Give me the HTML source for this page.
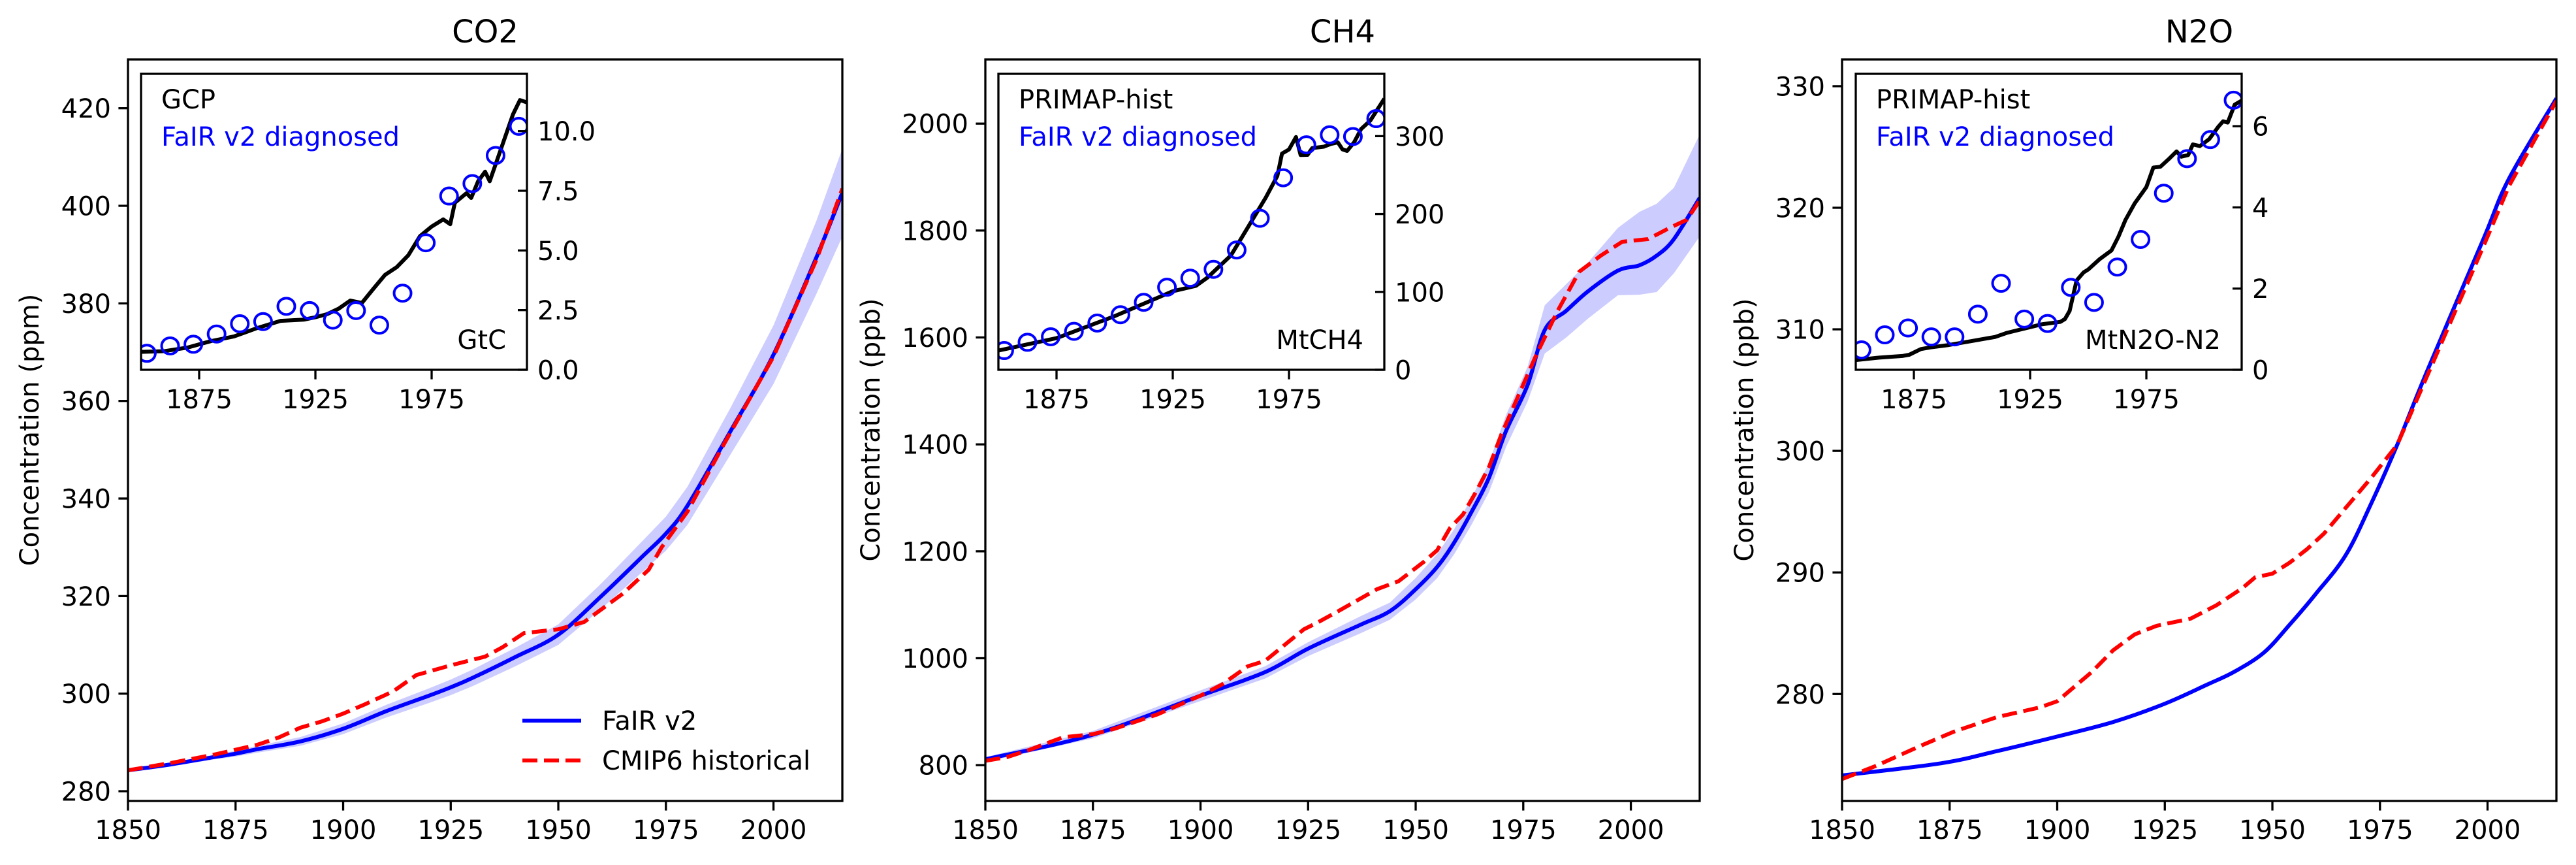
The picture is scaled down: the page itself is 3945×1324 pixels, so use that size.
<!DOCTYPE html>
<html><head><meta charset="utf-8"><style>
html,body{margin:0;padding:0;background:#fff;}
svg{display:block;font-family:"DejaVu Sans","Liberation Sans",sans-serif;}
</style></head><body>
<svg id="fig" width="3945" height="1324" viewBox="0 0 3945 1324" xmlns="http://www.w3.org/2000/svg"></svg>
<script>
// ---------- DATA ----------
const mainXTicks = [1850,1875,1900,1925,1950,1975,2000];
const insetXTicks = [1875,1925,1975];
const decYears = [1852.5,1862.5,1872.5,1882.5,1892.5,1902.5,1912.5,1922.5,1932.5,1942.5,1952.5,1962.5,1972.5,1982.5,1992.5,2002.5,2012.5];

// CO2
const co2Years = [1850,1860,1870,1875,1880,1890,1900,1910,1920,1925,1930,1940,1950,1960,1970,1975,1980,1990,2000,2010,2016];
const co2Fair = [284.3,285.5,287.0,287.7,288.6,290.2,292.8,296.4,299.6,301.3,303.2,307.5,312.1,320.0,328.5,332.8,338.5,353.8,369.5,389.5,402.7];
const co2Lo = [284.0,285.1,286.5,287.1,287.9,289.3,291.7,295.1,298.1,299.7,301.5,305.6,310.0,317.4,325.3,329.3,334.6,349.0,363.5,382.0,393.7];
const co2Hi = [284.6,285.9,287.5,288.3,289.3,291.1,293.9,297.7,301.1,302.9,304.9,309.4,314.2,322.6,331.7,336.3,342.4,358.6,375.5,397.0,411.7];
const co2CmipYears = [1850,1860,1870,1880,1885,1890,1895,1900,1905,1910,1912,1917,1925,1933,1937,1942,1950,1956,1965,1971,1974,1980,1988,2000,2010,2016];
const co2Cmip = [284.3,285.8,287.5,289.5,291.0,293.0,294.3,295.9,297.8,299.8,300.7,303.8,305.8,307.6,309.5,312.4,313.2,314.7,320.5,325.4,330.0,337.3,350.4,369.1,389.0,403.5];
const co2YTicks = [280,300,320,340,360,380,400,420];
const co2EmYears = [1850,1860,1870,1880,1890,1900,1910,1920,1925,1930,1935,1940,1945,1950,1955,1960,1965,1970,1975,1980,1983,1985,1990,1992,1995,1998,2000,2005,2010,2013,2016];
const co2Em = [0.75,0.78,0.93,1.2,1.4,1.75,2.05,2.1,2.2,2.33,2.56,2.9,2.8,3.4,3.98,4.3,4.8,5.6,6.0,6.3,6.1,7.0,7.4,7.2,7.9,8.3,7.9,9.3,10.7,11.3,11.2];
const co2Diag = [0.69,1.0,1.07,1.5,1.93,2.02,2.66,2.48,2.08,2.48,1.87,3.21,5.32,7.28,7.8,8.98,10.2];
const co2InsetTicks = [0,2.5,5,7.5,10];
const co2InsetTickLabels = ["0.0","2.5","5.0","7.5","10.0"];

// CH4
const ch4Years = [1850,1875,1900,1915,1925,1937,1944,1950,1955,1959,1963,1967,1971,1976,1980,1985,1990,1997,2002,2006,2010,2016];
const ch4Fair = [811,857,930,974,1018,1062,1088,1129,1171,1217,1274,1337,1425,1511,1614,1650,1686,1725,1735,1753,1784,1861];
const ch4Lo = [806,850,920,962,1004,1046,1072,1110,1150,1195,1250,1310,1395,1480,1570,1600,1635,1679,1680,1685,1720,1789];
const ch4Hi = [815,864,940,985,1030,1078,1104,1150,1195,1242,1300,1365,1455,1545,1660,1700,1740,1805,1835,1850,1880,1980];
const ch4CmipYears = [1850,1855,1860,1868,1875,1880,1890,1900,1905,1911,1915,1924,1927,1932,1941,1946,1952,1955,1958,1961,1964,1967,1970,1978,1983,1988,1993,1998,2004,2009,2013,2016];
const ch4Cmip = [808,815,828,852,858,868,895,930,951,985,995,1054,1066,1088,1129,1144,1181,1202,1244,1269,1311,1357,1420,1567,1650,1723,1753,1779,1784,1805,1820,1856];
const ch4YTicks = [800,1000,1200,1400,1600,1800,2000];
const ch4EmYears = [1850,1875,1900,1925,1935,1940,1945,1950,1955,1960,1965,1970,1972,1975,1978,1980,1983,1985,1990,1993,1996,1998,2000,2003,2006,2010,2013,2016];
const ch4Em = [24.7,40.6,68.9,100.8,107.8,118.5,132.7,146.7,171.4,196.2,221,249,277.6,282.9,298.8,275.8,276,284.6,286.5,290,292,283,281,292,309,320,334,348];
const ch4Diag = [24.7,35.3,42.4,49.4,60,70.7,86.6,106,117.7,129,153.8,194.5,246.5,288.9,301.7,299.5,322.5];
const ch4InsetTicks = [0,100,200,300];
const ch4InsetTickLabels = ["0","100","200","300"];

// N2O
const n2oYears = [1850,1873,1886,1900,1913,1925,1935,1941,1948,1954,1960,1967,1973,1979,1986,1999,2005,2016];
const n2oFair = [273.3,274.3,275.3,276.5,277.7,279.2,280.8,281.8,283.4,285.7,288.2,291.4,295.7,300.5,306.6,317.4,322.4,329.0];
const n2oCmipYears = [1850,1858,1868,1876,1886,1896,1900,1908,1913,1918,1923,1931,1937,1943,1946,1950,1954,1958,1962,1967,1973,1979,1986,1999,2005,2016];
const n2oCmip = [273.0,274.1,275.7,276.9,278.1,278.9,279.4,281.8,283.6,284.9,285.6,286.2,287.3,288.7,289.6,289.9,290.8,291.9,293.2,295.3,297.8,300.5,306.2,316.8,321.8,328.8];
const n2oYTicks = [280,290,300,310,320,330];
const n2oEmYears = [1850,1860,1870,1873,1878,1882,1890,1900,1910,1915,1920,1930,1938,1940,1942,1945,1948,1950,1955,1960,1963,1966,1970,1975,1978,1981,1985,1988,1990,1993,1995,1998,2002,2006,2008,2010,2013,2016];
const n2oEm = [0.24,0.3,0.34,0.37,0.51,0.55,0.61,0.71,0.81,0.91,0.98,1.12,1.18,1.25,1.45,2.2,2.4,2.47,2.73,2.94,3.28,3.69,4.1,4.5,4.98,5.0,5.21,5.38,5.25,5.29,5.55,5.51,5.68,5.99,6.12,6.09,6.53,6.63];
const n2oDiag = [0.49,0.86,1.03,0.81,0.81,1.37,2.13,1.25,1.14,2.03,1.66,2.53,3.21,4.35,5.2,5.67,6.64];
const n2oInsetTicks = [0,2,4,6];
const n2oInsetTickLabels = ["0","2","4","6"];

// ---------- DRAWING ----------
const NS = "http://www.w3.org/2000/svg";
const svg = document.getElementById("fig");
function mk(tag, attrs, parent){
  const e = document.createElementNS(NS, tag);
  for (const k in attrs) e.setAttribute(k, attrs[k]);
  (parent||svg).appendChild(e);
  return e;
}
function txt(str, attrs, parent){ const t = mk("text", attrs, parent); t.textContent = str; return t; }
function lin(d0,d1,r0,r1){ return v => r0 + (v-d0)/(d1-d0)*(r1-r0); }
function pts(xs, ys, sx, sy){ return xs.map((x,i)=>sx(x).toFixed(1)+","+sy(ys[i]).toFixed(1)).join(" "); }
function smooth(xs, ys, sx, sy){
  const P = xs.map((x,i)=>[sx(x), sy(ys[i])]);
  let d = "M" + P[0][0].toFixed(1) + "," + P[0][1].toFixed(1);
  for (let i=0;i<P.length-1;i++){
    const p0 = P[Math.max(0,i-1)], p1 = P[i], p2 = P[i+1], p3 = P[Math.min(P.length-1,i+2)];
    const c1 = [p1[0]+(p2[0]-p0[0])/6, p1[1]+(p2[1]-p0[1])/6];
    const c2 = [p2[0]-(p3[0]-p1[0])/6, p2[1]-(p3[1]-p1[1])/6];
    d += " C"+c1[0].toFixed(1)+","+c1[1].toFixed(1)+" "+c2[0].toFixed(1)+","+c2[1].toFixed(1)+" "+p2[0].toFixed(1)+","+p2[1].toFixed(1);
  }
  return d;
}

let clipId = 0;
function drawPanel(p){
  const g = mk("g", {});
  
  
  const sx = lin(1850, 2016, p.L, p.R);
  const sy = lin(p.ylim[0], p.ylim[1], 1226, 91);
  const T = 91, B = 1226;
  const title = txt(p.title, {x:(p.L+p.R)/2, y:65, "text-anchor":"middle", "font-size":48, fill:"#000"}, g);
  
  
  const cid = "clip" + (clipId++);
  const cp = mk("clipPath", {id:cid}, g);
  mk("rect", {x:p.L, y:T, width:p.R-p.L, height:B-T}, cp);
  const plot = mk("g", {"clip-path":"url(#"+cid+")"}, g);
  if (p.lo){
    const up = p.years.map((x,i)=>sx(x).toFixed(1)+","+sy(p.hi[i]).toFixed(1));
    const dn = p.years.map((x,i)=>sx(x).toFixed(1)+","+sy(p.lo[i]).toFixed(1)).reverse();
    const band = mk("polygon", {points: up.concat(dn).join(" "), fill:"#ccccff", stroke:"none"}, plot);
    
    
  }
  const bl = mk("path", {d: smooth(p.years, p.fair, sx, sy), fill:"none", stroke:"#0000ff", "stroke-width":6, "stroke-linejoin":"round"}, plot);
  
  
  const rl = mk("polyline", {points: pts(p.cmipYears, p.cmip, sx, sy), fill:"none", stroke:"#ff0000", "stroke-width":6, "stroke-dasharray":"23,10"}, plot);
  
  
  const fr = mk("rect", {x:p.L, y:T, width:p.R-p.L, height:B-T, fill:"none", stroke:"#000", "stroke-width":3.3}, g);
  
  
  mainXTicks.forEach(v=>{
    const x = sx(v);
    mk("line", {x1:x, y1:B, x2:x, y2:B+14.6, stroke:"#000", "stroke-width":3.3}, g);
    const t = txt(String(v), {x:x, y:1284, "text-anchor":"middle", "font-size":40}, g);
    
    
  });
  p.yTicks.forEach(v=>{
    const y = sy(v);
    mk("line", {x1:p.L-14.6, y1:y, x2:p.L, y2:y, stroke:"#000", "stroke-width":3.3}, g);
    const t = txt(String(v), {x:p.L-26, y:y+14.5, "text-anchor":"end", "font-size":40}, g);
    
    
  });
  const yl = txt(p.ylabel, {x:p.ylx, y:658, "text-anchor":"middle", "font-size":40, transform:"rotate(-90 "+p.ylx+" 658)", "dominant-baseline":"central"}, g);
  
  

  const iL = p.iL, iR = p.iL + 591, iT = 113, iB = 566;
  const ix = lin(1850, 2016, iL, iR);
  const iy = lin(0, p.iYmax, iB, iT);
  const ig = mk("g", {}, g);
  
  
  mk("rect", {x:iL, y:iT, width:iR-iL, height:iB-iT, fill:"#fff"}, ig);
  const icid = "clip" + (clipId++);
  const icp = mk("clipPath", {id:icid}, ig);
  mk("rect", {x:iL, y:iT, width:iR-iL, height:iB-iT}, icp);
  const ip = mk("g", {"clip-path":"url(#"+icid+")"}, ig);
  const el = mk("polyline", {points: pts(p.emYears, p.em, ix, iy), fill:"none", stroke:"#000", "stroke-width":6, "stroke-linejoin":"round"}, ip);
  
  
  decYears.forEach((yr,i)=>{
    const c = mk("ellipse", {cx:ix(yr), cy:iy(p.diag[i]), rx:13, ry:12.5, fill:"none", stroke:"#0000ff", "stroke-width":4}, ip);
    
    
  });
  mk("rect", {x:iL, y:iT, width:iR-iL, height:iB-iT, fill:"none", stroke:"#000", "stroke-width":3.3}, ig);
  insetXTicks.forEach(v=>{
    const x = ix(v);
    mk("line", {x1:x, y1:iB, x2:x, y2:iB+14.6, stroke:"#000", "stroke-width":3.3}, ig);
    const t = txt(String(v), {x:x, y:625, "text-anchor":"middle", "font-size":40}, ig);
    
    
  });
  p.iTicks.forEach((v,i)=>{
    const y = iy(v);
    mk("line", {x1:iR-14, y1:y, x2:iR, y2:y, stroke:"#000", "stroke-width":3.3}, ig);
    const t = txt(p.iTickLabels[i], {x:iR+16, y:y+14.5, "text-anchor":"start", "font-size":40}, ig);
    
    
  });
  const src = txt(p.source, {x:iL+31, y:166, "font-size":40, fill:"#000"}, ig);
  
  
  const dg = txt("FaIR v2 diagnosed", {x:iL+31, y:223, "font-size":40, fill:"#0000ff"}, ig);
  
  
  const un = txt(p.unit, {x:iR-32, y:534, "text-anchor":"end", "font-size":40}, ig);
  
  
  return g;
}

drawPanel({key:"co2", title:"CO2", L:196, R:1290, ylim:[278,430], years:co2Years, fair:co2Fair, lo:co2Lo, hi:co2Hi,
  cmipYears:co2CmipYears, cmip:co2Cmip, yTicks:co2YTicks, ylabel:"Concentration (ppm)", ylx:46,
  iL:216, iYmax:12.4, emYears:co2EmYears, em:co2Em, diag:co2Diag, iTicks:co2InsetTicks, iTickLabels:co2InsetTickLabels, source:"GCP", unit:"GtC"});
drawPanel({key:"ch4", title:"CH4", L:1509, R:2603, ylim:[733,2120], years:ch4Years, fair:ch4Fair, lo:ch4Lo, hi:ch4Hi,
  cmipYears:ch4CmipYears, cmip:ch4Cmip, yTicks:ch4YTicks, ylabel:"Concentration (ppb)", ylx:1334,
  iL:1529, iYmax:380, emYears:ch4EmYears, em:ch4Em, diag:ch4Diag, iTicks:ch4InsetTicks, iTickLabels:ch4InsetTickLabels, source:"PRIMAP-hist", unit:"MtCH4"});
drawPanel({key:"n2o", title:"N2O", L:2821, R:3915, ylim:[271.2,332.2], years:n2oYears, fair:n2oFair, lo:null, hi:null,
  cmipYears:n2oCmipYears, cmip:n2oCmip, yTicks:n2oYTicks, ylabel:"Concentration (ppb)", ylx:2672,
  iL:2842, iYmax:7.29, emYears:n2oEmYears, em:n2oEm, diag:n2oDiag, iTicks:n2oInsetTicks, iTickLabels:n2oInsetTickLabels, source:"PRIMAP-hist", unit:"MtN2O-N2"});

const lg = mk("g", {});


const l1 = mk("line", {x1:800, y1:1103, x2:890, y2:1103, stroke:"#0000ff", "stroke-width":6}, lg);


const t1 = txt("FaIR v2", {x:922, y:1117, "font-size":40}, lg);


const l2 = mk("line", {x1:800, y1:1164, x2:890, y2:1164, stroke:"#ff0000", "stroke-width":6, "stroke-dasharray":"23,10"}, lg);


const t2 = txt("CMIP6 historical", {x:922, y:1178, "font-size":40}, lg);


</script>
</body></html>
